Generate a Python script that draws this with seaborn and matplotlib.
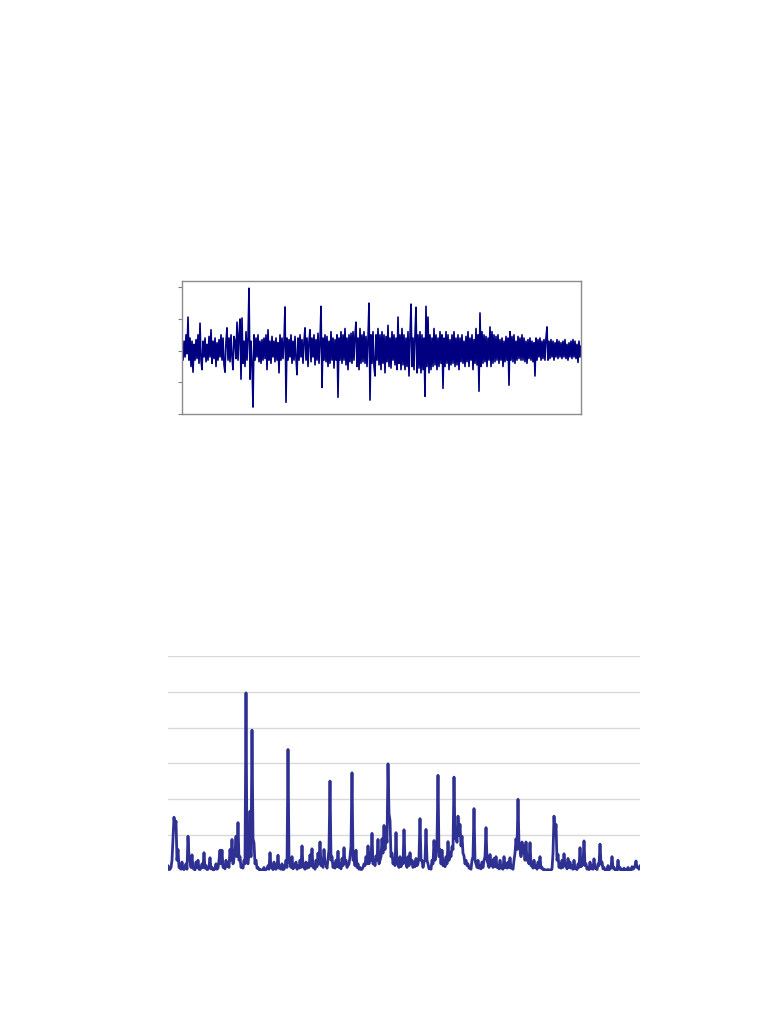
import numpy as np
import pandas as pd
import matplotlib
matplotlib.use("Agg")
import matplotlib.pyplot as plt
import seaborn as sns

sns.set_style("white")

# returns series (top panel), in units of one y-tick step
returns = [
    0.1, -0.3, 0.3, -0.2, 0.5, -0.1, 1.06, -0.3, 0.4, -0.5, 0.3, -0.68, 0.2, -0.3, 0.35, -0.25, 0.5, -0.4, 0.87, -0.3,
    -0.6, 0.3, -0.2, 0.4, -0.35, 0.2, -0.3, 0.45, -0.2, 0.66, -0.4, 0.3, -0.25, 0.4, -0.5, 0.25, -0.3, 0.35, -0.2, 0.5,
    -0.3, 0.4, -0.45, -0.68, 0.3, 0.72, -0.3, 0.4, -0.35, 0.5, -0.2, -0.6, 0.45, 0.3, -0.25, 0.9, -0.3, 0.5, 1.0, -0.9,
    1.03, -0.4, 0.3, -0.5, 0.6, -0.3, 0.4, 1.97, -0.9, 0.3, -0.4, -1.78, 0.5, -0.3, 0.4, -0.2, 0.5, -0.35, 0.3, -0.4,
    0.35, -0.3, 0.4, -0.25, 0.5, -0.6, 0.66, -0.3, 0.3, -0.4, 0.45, -0.2, 0.3, -0.35, 0.4, -0.3, 0.25, -0.7, 0.5, -0.3,
    0.4, -0.25, 0.3, 1.38, -1.63, 0.4, -0.3, 0.35, -0.2, 0.5, -0.4, 0.3, -0.3, 0.45, -0.25, -0.76, 0.4, -0.3, 0.5, -0.2,
    0.35, -0.4, 0.3, 0.72, -0.3, 0.4, -0.5, 0.3, 0.66, -0.35, 0.4, -0.2, 0.5, -0.45, 0.35, -0.3, 0.55, -0.4, 0.3, 1.4,
    -1.16, 0.4, -0.3, 0.5, -0.35, 0.45, -0.5, 0.3, -0.4, 0.6, -0.3, 0.4, -0.55, 0.35, -0.3, 0.5, -1.47, 0.4, -0.3, 0.6,
    -0.4, 0.5, -0.3, 0.7, -0.45, 0.4, -0.6, 0.5, -0.35, 0.55, -0.4, 0.6, -0.3, 0.5, 0.9, -0.5, 0.4, -0.6, 0.7, -0.4,
    0.5, -0.35, 0.6, -0.4, 0.45, -0.5, 0.4, 1.5, -1.56, 0.5, -0.4, 0.6, -0.5, -0.8, 0.5, -0.3, 0.7, -0.45, 0.5, -0.6,
    0.6, -0.4, 0.5, -0.7, 0.45, -0.35, 0.8, -0.5, 0.4, -0.55, 0.6, -0.3, 0.5, -0.45, 0.4, -0.6, 1.06, -0.4, 0.5, -0.6,
    0.7, -0.45, 0.5, -0.6, 0.4, -0.5, 0.6, -0.8, 0.45, 1.47, -0.5, 0.4, -0.6, 0.5, 1.37, -0.7, 0.5, -0.55, 0.6, -0.7,
    0.5, -0.6, 0.4, -1.44, 1.4, -0.5, 1.06, -0.7, 0.5, -0.6, 0.4, -0.5, 0.7, -0.45, 0.5, -0.6, 0.4, -0.5, 0.6, -0.4,
    0.5, -1.19, 0.4, -0.5, 0.6, -0.4, 0.5, -0.6, 0.35, -0.45, 0.5, -0.4, 0.6, -0.5, 0.4, -0.45, 0.5, -0.6, 0.4, -0.35,
    0.5, -0.4, 0.3, -0.5, 0.45, -0.35, 0.6, -0.5, 0.4, -0.3, 0.5, -0.6, 0.35, -0.4, 0.7, -0.45, 0.5, -1.28, 1.19, -0.5,
    0.6, -0.4, 0.5, -0.35, 0.45, -0.5, 0.4, -0.3, 0.75, -0.5, 0.6, -0.4, 0.5, -0.35, 0.45, -0.3, 0.5, -0.4, 0.35, -0.3,
    0.4, -0.5, 0.3, -0.35, 0.45, -0.3, 0.4, -1.09, 0.6, -0.3, 0.45, -0.35, 0.5, -0.4, 0.3, -0.3, 0.45, -0.25, 0.4, -0.3,
    0.5, -0.3, 0.4, -0.35, 0.3, -0.4, 0.35, -0.25, 0.4, -0.3, 0.3, -0.35, 0.25, -0.8, 0.4, -0.3, 0.35, -0.2, 0.4, -0.3,
    0.3, -0.25, 0.35, -0.3, 0.4, 0.75, -0.3, 0.3, -0.25, 0.35, -0.2, 0.3, -0.3, 0.25, -0.2, 0.35, -0.25, 0.3, -0.2, 0.25,
    -0.25, 0.3, -0.2, 0.35, -0.25, 0.2, -0.3, 0.25, -0.2, 0.3, -0.25, 0.35, -0.2, 0.3, -0.25, 0.2, -0.37, 0.3, -0.2, 0.15,
]

# squared returns (bottom panel), in units of one gridline step
squared = [
    0.15, 0.04, 0.05, 0.1, 0.3, 0.9, 1.5, 1.2, 1.39, 0.3, 0.6, 0.1, 0.08, 0.05, 0.25, 0.06, 0.04, 0.1, 0.2, 0.05,
    0.97, 0.4, 0.3, 0.1, 0.45, 0.08, 0.05, 0.03, 0.25, 0.1, 0.3, 0.05, 0.04, 0.08, 0.2, 0.1, 0.51, 0.08, 0.15, 0.04,
    0.05, 0.12, 0.37, 0.06, 0.1, 0.03, 0.03, 0.08, 0.2, 0.05, 0.08, 0.3, 0.58, 0.2, 0.58, 0.1, 0.1, 0.06, 0.3, 0.12,
    0.2, 0.1, 0.6, 0.3, 0.88, 0.2, 0.35, 0.5, 0.97, 0.4, 1.35, 0.3, 0.4, 0.1, 0.15, 0.08, 0.3, 0.2, 4.97, 0.3,
    0.2, 0.5, 1.67, 0.4, 3.93, 0.9, 0.79, 0.2, 0.3, 0.08, 0.1, 0.04, 0.05, 0.02, 0.02, 0.04, 0.1, 0.03, 0.04, 0.06,
    0.15, 0.05, 0.51, 0.1, 0.1, 0.04, 0.25, 0.06, 0.05, 0.1, 0.44, 0.08, 0.1, 0.05, 0.2, 0.04, 0.05, 0.12, 0.3, 0.1,
    3.39, 0.3, 0.2, 0.1, 0.4, 0.06, 0.1, 0.15, 0.25, 0.05, 0.15, 0.08, 0.3, 0.1, 0.7, 0.12, 0.1, 0.05, 0.25, 0.08,
    0.2, 0.1, 0.45, 0.15, 0.62, 0.1, 0.15, 0.05, 0.3, 0.12, 0.5, 0.2, 0.81, 0.15, 0.3, 0.1, 0.6, 0.2, 0.2, 0.08,
    0.35, 0.6, 2.51, 0.3, 0.4, 0.1, 0.2, 0.08, 0.3, 0.12, 0.55, 0.1, 0.2, 0.06, 0.35, 0.15, 0.65, 0.2, 0.3, 0.1,
    0.15, 0.2, 0.4, 0.7, 2.74, 0.3, 0.35, 0.15, 0.58, 0.1, 0.2, 0.05, 0.1, 0.04, 0.05, 0.1, 0.2, 0.15, 0.4, 0.2,
    0.7, 0.2, 0.5, 0.3, 1.05, 0.2, 0.3, 0.15, 0.42, 0.3, 0.88, 0.2, 0.3, 0.4, 0.9, 0.5, 1.27, 0.6, 1.1, 0.8,
    2.99, 1.6, 1.41, 0.4, 0.5, 0.2, 0.3, 0.15, 1.07, 0.2, 0.2, 0.1, 0.4, 0.12, 0.3, 0.2, 1.15, 0.3, 0.2, 0.1,
    0.4, 0.15, 0.51, 0.2, 0.3, 0.1, 0.25, 0.12, 0.35, 0.15, 0.2, 0.4, 1.46, 0.3, 0.3, 0.1, 0.25, 0.3, 1.16, 0.3,
    0.2, 0.06, 0.1, 0.05, 0.3, 0.2, 0.85, 0.3, 0.5, 0.8, 2.67, 0.4, 0.6, 0.2, 0.58, 0.15, 0.3, 0.12, 0.4, 0.2,
    0.82, 0.3, 0.5, 0.4, 0.68, 0.6, 2.62, 0.9, 1.0, 0.8, 1.53, 1.0, 1.3, 0.7, 0.97, 0.5, 0.42, 0.2, 0.3, 0.15,
    0.2, 0.08, 0.1, 0.05, 0.3, 0.4, 1.74, 0.3, 0.2, 0.1, 0.3, 0.08, 0.15, 0.06, 0.25, 0.1, 0.3, 0.4, 1.21, 0.3,
    0.2, 0.1, 0.46, 0.15, 0.3, 0.1, 0.35, 0.12, 0.4, 0.1, 0.15, 0.06, 0.3, 0.08, 0.1, 0.05, 0.4, 0.1, 0.2, 0.08,
    0.25, 0.1, 0.37, 0.08, 0.1, 0.05, 0.3, 0.5, 0.9, 0.6, 2.0, 0.7, 0.6, 0.4, 0.81, 0.5, 0.7, 0.3, 0.81, 0.3,
    0.3, 0.2, 0.79, 0.15, 0.2, 0.08, 0.3, 0.1, 0.15, 0.05, 0.25, 0.1, 0.4, 0.08, 0.1, 0.04, 0.05, 0.03, 0.03, 0.02,
    0.04, 0.02, 0.03, 0.02, 0.06, 0.5, 1.53, 1.0, 1.3, 0.3, 0.46, 0.1, 0.2, 0.08, 0.3, 0.1, 0.48, 0.15, 0.2, 0.06,
    0.35, 0.1, 0.25, 0.08, 0.15, 0.05, 0.3, 0.06, 0.1, 0.04, 0.2, 0.1, 0.65, 0.12, 0.15, 0.2, 0.84, 0.15, 0.2, 0.05,
    0.1, 0.04, 0.25, 0.06, 0.15, 0.05, 0.34, 0.08, 0.1, 0.04, 0.2, 0.15, 0.75, 0.2, 0.25, 0.06, 0.1, 0.03, 0.05, 0.02,
    0.15, 0.04, 0.05, 0.1, 0.4, 0.08, 0.1, 0.03, 0.05, 0.02, 0.3, 0.05, 0.1, 0.03, 0.05, 0.02, 0.08, 0.03, 0.03, 0.02,
    0.1, 0.04, 0.05, 0.03, 0.12, 0.05, 0.08, 0.15, 0.28, 0.1, 0.1, 0.05, 0.15,
]

top_ticks = [-2, -1, 0, 1, 2]
grid_levels = [1, 2, 3, 4, 5, 6]

df_top = pd.DataFrame({"t": np.arange(len(returns)), "r": returns})
df_bot = pd.DataFrame({"t": np.arange(len(squared)), "r2": squared})

fig = plt.figure(figsize=(7.68, 10.24), dpi=100)

# --- top panel: returns ---
ax1 = fig.add_axes([0.237, 0.5957, 0.5195, 0.1299])
sns.lineplot(data=df_top, x="t", y="r", ax=ax1, color="#000080", linewidth=1.2)
ax1.set_xlim(0, len(returns) - 1)
ax1.set_ylim(-2, 2.2)
ax1.set_yticks(top_ticks)
ax1.set_yticklabels([])
ax1.set_xticks([])
ax1.set_xlabel("")
ax1.set_ylabel("")
ax1.tick_params(axis="y", left=True, direction="out", length=3, width=0.8, color="#808080")
for s in ax1.spines.values():
    s.set_color("#8c8c8c")
    s.set_linewidth(1.0)

# --- bottom panel: squared returns ---
ax2 = fig.add_axes([0.21875, 0.1494, 0.6146, 0.21])
for g in grid_levels:
    ax2.axhline(g, color="#d9d9d9", linewidth=1.0, zorder=0)
sns.lineplot(data=df_bot, x="t", y="r2", ax=ax2, color="#2E3192", linewidth=2.0)
ax2.set_xlim(0, len(squared) - 1)
ax2.set_ylim(0, 6)
ax2.set_xticks([])
ax2.set_yticks([])
ax2.set_xlabel("")
ax2.set_ylabel("")
for s in ax2.spines.values():
    s.set_visible(False)

fig.savefig("out.png", dpi=100)
